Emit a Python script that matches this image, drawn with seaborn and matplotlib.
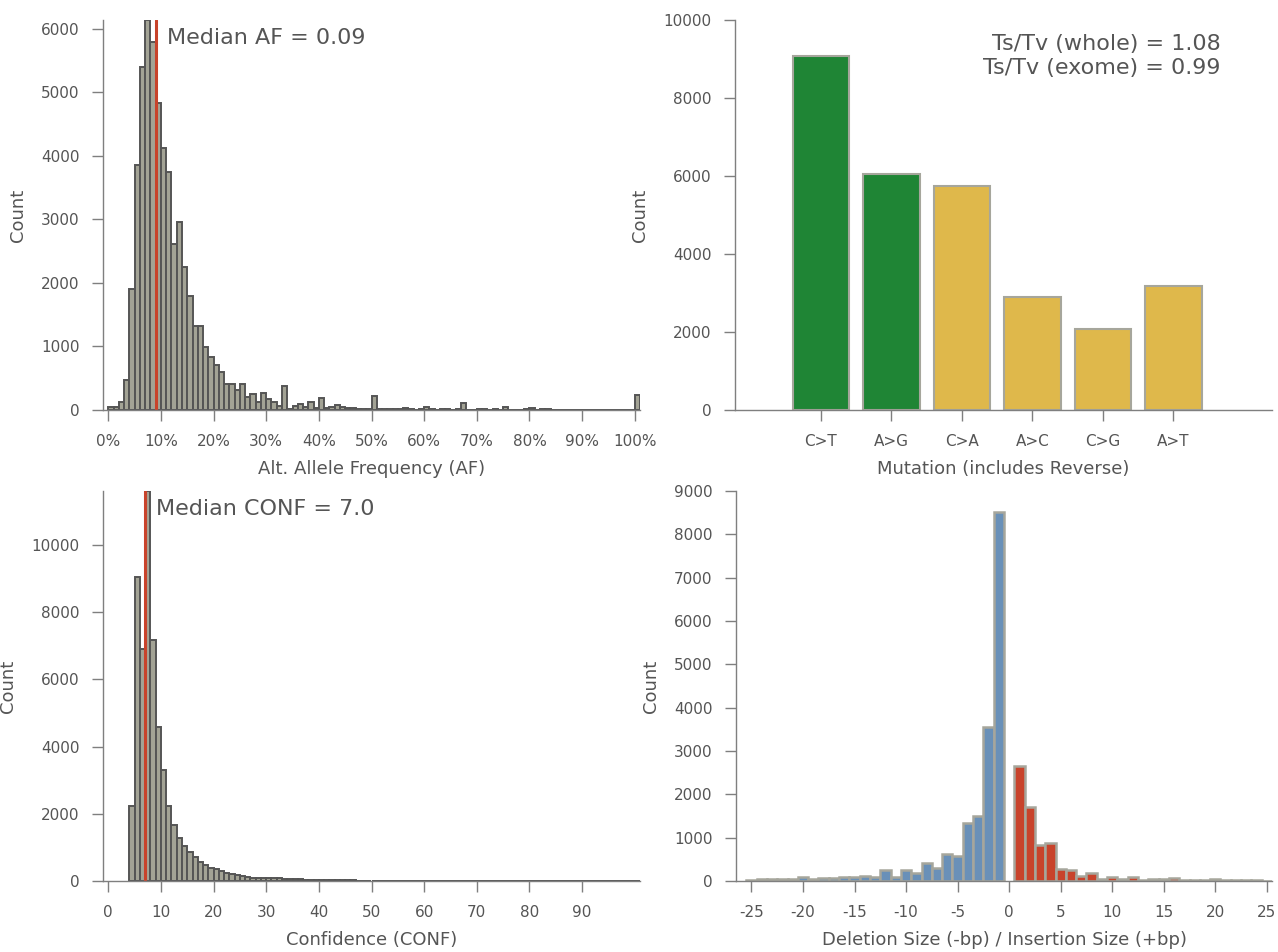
import numpy as np
import matplotlib
matplotlib.use("Agg")
import matplotlib.pyplot as plt
from matplotlib.ticker import FuncFormatter, MultipleLocator
import seaborn as sns

# ---------------- data ----------------
# Alt. allele frequency histogram, bins of width 0.01 starting at 0.00
af_bin_width = 0.01
af_counts = [
    40, 45, 120, 480, 1900, 3850, 5400, 6140, 5790, 4830,
    4120, 3740, 2610, 2960, 2250, 1800, 1330, 1320, 995, 835,
    705, 595, 405, 405, 315, 405, 200, 250, 120, 275,
    175, 125, 60, 370, 20, 60, 90, 40, 125, 25,
    195, 35, 55, 80, 50, 35, 25, 20, 15, 15,
    225, 10, 10, 15, 10, 15, 25, 20, 5, 10,
    55, 10, 5, 15, 10, 5, 10, 115, 5, 5,
    10, 10, 5, 10, 5, 50, 5, 5, 5, 10,
    25, 5, 10, 15, 5, 5, 5, 5, 5, 5,
    5, 5, 5, 5, 5, 5, 5, 5, 5, 5,
    240,
]
median_af = 0.09

# Confidence histogram, integer bins starting at CONF = 4
conf_first = 4
conf_counts = [
    2230, 9030, 6900, 11600, 7170, 4580, 3310, 2240, 1680, 1280,
    1050, 860, 715, 560, 470, 375, 365, 305, 250, 200,
    165, 140, 110, 100, 85, 85, 100, 80, 75, 65,
    60, 55, 45, 40, 35, 30, 30, 25, 22, 20,
    18, 16, 15, 14, 13, 12, 12, 11, 10, 10,
    10, 9, 9, 8, 8, 8, 7, 7, 7, 6,
    6, 6, 5, 5, 5, 5, 4, 4, 0, 4,
    4, 0, 3, 3, 0, 3, 3, 0, 3, 0,
    3, 3, 0, 3, 0, 3, 0, 3, 3, 0,
    3, 0, 3, 0, 3, 0, 3,
]
median_conf = 7.0

# Substitution spectrum
mutations = ["C>T", "A>G", "C>A", "A>C", "C>G", "A>T"]
mutation_counts = [9085, 6040, 5750, 2900, 2080, 3185]
mutation_type = ["Ts", "Ts", "Tv", "Tv", "Tv", "Tv"]
ts_tv_whole = 1.08
ts_tv_exome = 0.99

# Indel size spectrum
deletion_sizes = np.arange(-25, 0)
deletion_counts = [
    30, 55, 40, 50, 40, 92, 46, 62, 62, 100,
    92, 115, 92, 246, 100, 262, 193, 423, 308, 631,
    577, 1331, 1508, 3561, 8508,
]
insertion_sizes = np.arange(1, 26)
insertion_counts = [
    2654, 1715, 831, 869, 285, 254, 115, 177, 38, 85,
    38, 100, 30, 45, 38, 60, 15, 30, 20, 45,
    20, 15, 15, 30, 10,
]

# ---------------- style ----------------
TEXT = "#555555"
SPINE = "#7f7f7f"
HIST_FILL = "#a3a395"
HIST_EDGE = "#555555"
RED = "#c8432b"
BLUE = "#6990b8"
GREEN = "#1f8535"
YELLOW = "#dfb84b"
BAR_EDGE = "#a6a69c"

sns.set_style("ticks")
plt.rcParams.update({
    "font.family": ["DejaVu Sans"],
    "axes.unicode_minus": False,
    "text.color": TEXT,
    "axes.labelcolor": TEXT,
    "xtick.color": SPINE,
    "ytick.color": SPINE,
    "xtick.labelcolor": TEXT,
    "ytick.labelcolor": TEXT,
    "axes.edgecolor": SPINE,
    "axes.linewidth": 1.0,
    "xtick.labelsize": 11,
    "ytick.labelsize": 11,
    "axes.labelsize": 13,
})

W, H = 1278, 952
fig = plt.figure(figsize=(W / 100, H / 100), dpi=100)


def make_axes(left, top, right, bottom):
    return fig.add_axes([left / W, 1 - bottom / H, (right - left) / W, (bottom - top) / H])


ax_af = make_axes(103, 20, 640, 410)
ax_mut = make_axes(735, 20, 1272, 410)
ax_conf = make_axes(103, 491, 640, 881)
ax_indel = make_axes(736, 491, 1272, 881)


def finish(ax):
    sns.despine(ax=ax)
    ax.tick_params(axis="both", direction="out", length=8, width=1, pad=9)
    ax.set_ylabel("Count", labelpad=10)


# ---- allele frequency ----
af_centers = (np.arange(len(af_counts)) + 0.5) * af_bin_width
sns.histplot(x=af_centers, weights=af_counts, binwidth=af_bin_width,
             binrange=(0, len(af_counts) * af_bin_width), ax=ax_af,
             color=HIST_FILL, edgecolor=HIST_EDGE, linewidth=1.4, alpha=1)
ax_af.axvline(median_af, color=RED, lw=2.2)
ax_af.annotate(f"Median AF = {median_af:.2f}", xy=(median_af, 1),
               xycoords=("data", "axes fraction"), xytext=(8, -6),
               textcoords="offset points", ha="left", va="top", fontsize=16)
ax_af.set_xlim(-0.01, 1.01)
ax_af.set_ylim(0, max(af_counts))
ax_af.xaxis.set_major_locator(MultipleLocator(0.1))
ax_af.yaxis.set_major_locator(MultipleLocator(1000))
ax_af.xaxis.set_major_formatter(FuncFormatter(lambda v, _: f"{v * 100:.0f}%"))
ax_af.set_xlabel("Alt. Allele Frequency (AF)", labelpad=8)
finish(ax_af)

# ---- confidence ----
conf_centers = np.arange(conf_first, conf_first + len(conf_counts)) + 0.5
sns.histplot(x=conf_centers, weights=conf_counts, binwidth=1,
             binrange=(conf_first, conf_first + len(conf_counts)), ax=ax_conf,
             color=HIST_FILL, edgecolor=HIST_EDGE, linewidth=1.4, alpha=1)
ax_conf.axvline(median_conf, color=RED, lw=2.2)
ax_conf.annotate(f"Median CONF = {median_conf:.1f}", xy=(median_conf, 1),
                 xycoords=("data", "axes fraction"), xytext=(8, -6),
                 textcoords="offset points", ha="left", va="top", fontsize=16)
ax_conf.set_xlim(-1, 101)
ax_conf.set_ylim(0, max(conf_counts))
ax_conf.set_xticks(np.arange(0, 100, 10))
ax_conf.yaxis.set_major_locator(MultipleLocator(2000))
ax_conf.set_xlabel("Confidence (CONF)", labelpad=8)
finish(ax_conf)

# ---- mutation spectrum ----
type_colors = {"Ts": GREEN, "Tv": YELLOW}
sns.barplot(x=mutations, y=mutation_counts, hue=mutations,
            palette=[type_colors[t] for t in mutation_type], legend=False,
            width=0.8, saturation=1, edgecolor=BAR_EDGE, linewidth=1.5, ax=ax_mut)
ax_mut.set_xlim(-1.22, 6.4)
ax_mut.set_ylim(0, 10000)
ax_mut.yaxis.set_major_locator(MultipleLocator(2000))
ax_mut.text(0.905, 0.965, f"Ts/Tv (whole) = {ts_tv_whole:.2f}\nTs/Tv (exome) = {ts_tv_exome:.2f}",
            transform=ax_mut.transAxes, ha="right", va="top", multialignment="right",
            fontsize=16, linespacing=1.25)
ax_mut.set_xlabel("Mutation (includes Reverse)", labelpad=8)
finish(ax_mut)

# ---- indel sizes ----
sns.histplot(x=deletion_sizes, weights=deletion_counts, discrete=True, ax=ax_indel,
             color=BLUE, edgecolor=BAR_EDGE, linewidth=1.8, alpha=1)
sns.histplot(x=insertion_sizes, weights=insertion_counts, discrete=True, ax=ax_indel,
             color=RED, edgecolor=BAR_EDGE, linewidth=1.8, alpha=1)
ax_indel.set_xlim(-26.5, 25.5)
ax_indel.set_ylim(0, 9000)
ax_indel.set_xticks(np.arange(-25, 26, 5))
ax_indel.yaxis.set_major_locator(MultipleLocator(1000))
ax_indel.set_xlabel("Deletion Size (-bp) / Insertion Size (+bp)", labelpad=8)
finish(ax_indel)

fig.savefig("out.png", dpi=100)
